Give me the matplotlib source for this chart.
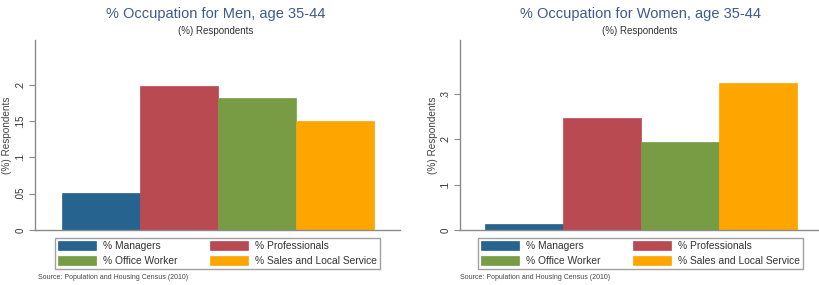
import matplotlib
matplotlib.use("Agg")
import matplotlib.pyplot as plt
from matplotlib.ticker import FuncFormatter

plt.rcParams['font.family'] = ['Liberation Sans', 'DejaVu Sans']

categories = ["% Managers", "% Professionals", "% Office Worker", "% Sales and Local Service"]
men_values = [0.0506, 0.199, 0.1816, 0.1508]
women_values = [0.013, 0.2465, 0.1935, 0.324]
men_ticks = [0, 0.05, 0.1, 0.15, 0.2]
women_ticks = [0, 0.1, 0.2, 0.3]
titles = ["% Occupation for Men, age 35-44", "% Occupation for Women, age 35-44"]
source = "Source: Population and Housing Census (2010)"

colors = ["#26638f", "#b94a52", "#789c43", "#ffa500"]
title_color = "#3e5b8c"
axis_gray = "#8a8a8a"


def fmt(v, pos):
    if v == 0:
        return "0"
    s = ("%g" % v)
    return s.lstrip("0")


def make_panel(fig, rect, values, ticks, ylim, xlim, title, title_x, leg_box, src_x):
    ax = fig.add_axes(rect)
    bars = []
    for i, (cat, val, col) in enumerate(zip(categories, values, colors)):
        b = ax.bar(i, val, width=1.0, color=col, edgecolor=col, linewidth=0.5, label=cat)
        bars.append(b)
    ax.set_xlim(*xlim)
    ax.set_ylim(*ylim)
    ax.set_yticks(ticks)
    ax.yaxis.set_major_formatter(FuncFormatter(fmt))
    ax.set_xticks([])
    for s in ["top", "right"]:
        ax.spines[s].set_visible(False)
    for s in ["left", "bottom"]:
        ax.spines[s].set_color(axis_gray)
        ax.spines[s].set_linewidth(1.0)
    ax.tick_params(axis="y", colors=axis_gray, labelcolor="#333333", labelsize=7,
                   length=4, width=0.8, pad=3)
    for lab in ax.get_yticklabels():
        lab.set_rotation(90)
        lab.set_va("center")
    ax.set_ylabel("(%) Respondents", fontsize=7.2, color="#444444", labelpad=2)
    # row-wise order in a 2-column legend
    order = [0, 2, 1, 3]
    leg = ax.legend([bars[k] for k in order], [categories[k] for k in order],
                    loc="center", bbox_to_anchor=leg_box, mode="expand", ncol=2,
                    fontsize=7.4, frameon=True, fancybox=False, edgecolor=axis_gray,
                    handlelength=3.7, handleheight=1.05, handletextpad=0.65,
                    labelspacing=0.45, borderpad=0.3, borderaxespad=0, columnspacing=1.0)
    leg.get_frame().set_linewidth(1.0)
    for t in leg.get_texts():
        t.set_color("#333333")
    fig.text(title_x, 0.951, title, ha="center", va="center", fontsize=10.5, color=title_color)
    fig.text(title_x, 0.891, "(%) Respondents", ha="center", va="center", fontsize=7, color="#333333")
    fig.text(src_x, 0.014, source, ha="left", va="bottom", fontsize=5, color="#444444")
    return ax


fig = plt.figure(figsize=(8.19, 2.85), dpi=100)

make_panel(fig, [35 / 819, 55 / 285, 365 / 819, 190 / 285], men_values, men_ticks,
           (0, 0.262), (-0.846, 3.833), titles[0], 216 / 819,
           (20 / 365, -40 / 190, 325 / 365, 33 / 190), 38 / 819)
make_panel(fig, [460 / 819, 55 / 285, 358 / 819, 190 / 285], women_values, women_ticks,
           (0, 0.419), (-0.82, 3.77), titles[1], 640 / 819,
           (18 / 358, -40 / 190, 325 / 358, 33 / 190), 460 / 819)

fig.savefig("out.png", dpi=100)
